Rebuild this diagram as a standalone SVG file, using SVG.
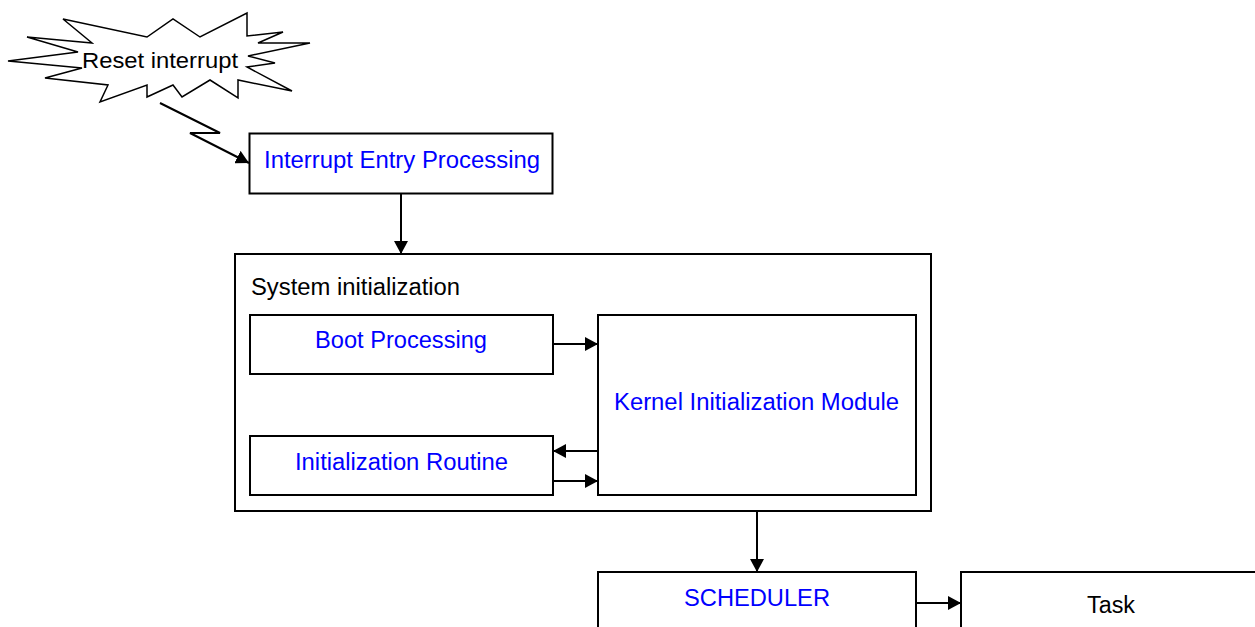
<svg xmlns="http://www.w3.org/2000/svg" width="1255" height="627" viewBox="0 0 1255 627">
<style>
.box{fill:#fff;stroke:#000;stroke-width:2}
.t{font-family:"Liberation Sans",Arial,sans-serif;font-size:23px;fill:#0000ff}
.k{font-family:"Liberation Sans",Arial,sans-serif;font-size:23px;fill:#000}
.c{fill:none;stroke:#000;stroke-width:2}
</style>
<defs>
<marker id="ah" markerUnits="userSpaceOnUse" markerWidth="14" markerHeight="14" viewBox="0 0 14 14" refX="13" refY="7" orient="auto">
<path d="M0,0 L13,7 L0,14 Z" fill="#000"/>
</marker>
</defs>
<rect width="1255" height="627" fill="#fff"/>
<g id="reset">
<polygon points="63,19 147,37 173,19 200,37 247,13 247,36 283,32 258,43 310,43 248,56 275,63 247,67 292,91 238,80 238,98 210,80 182,97 173,85 147,97 147,85 100,102 108,85 45,78 82,68 8,61 78,52 27,37 92,43" fill="#fff" stroke="#000" stroke-width="1.5" stroke-linejoin="miter"/>
<text class="k" x="82" y="68" textLength="156" lengthAdjust="spacingAndGlyphs" style="font-size:22px">Reset interrupt</text>
</g>
<g id="interrupt-entry">
<rect class="box" x="249.5" y="133.5" width="303" height="60"/>
<text class="t" x="264" y="168" textLength="276" lengthAdjust="spacingAndGlyphs">Interrupt Entry Processing</text>
</g>
<g id="system-init">
<rect class="box" x="235" y="254" width="696" height="257"/>
<text class="k" x="251" y="295" textLength="209" lengthAdjust="spacingAndGlyphs">System initialization</text>
</g>
<g id="boot">
<rect class="box" x="250" y="315" width="303" height="59"/>
<text class="t" x="315" y="348" textLength="172" lengthAdjust="spacingAndGlyphs">Boot Processing</text>
</g>
<g id="init-routine">
<rect class="box" x="250" y="436" width="303" height="59"/>
<text class="t" x="295" y="470" textLength="213" lengthAdjust="spacingAndGlyphs">Initialization Routine</text>
</g>
<g id="kernel">
<rect class="box" x="598" y="315" width="318" height="180"/>
<text class="t" x="614" y="410" textLength="285" lengthAdjust="spacingAndGlyphs">Kernel Initialization Module</text>
</g>
<g id="scheduler">
<rect class="box" x="598" y="572" width="318" height="70"/>
<text class="t" x="684" y="606" textLength="146" lengthAdjust="spacingAndGlyphs">SCHEDULER</text>
</g>
<g id="task">
<rect class="box" x="961" y="572" width="320" height="70"/>
<text class="k" x="1087" y="613" textLength="48" lengthAdjust="spacingAndGlyphs">Task</text>
</g>
<g id="connectors">
<path class="c" d="M160,103 L220,133 L190,133 L249,163" marker-end="url(#ah)" stroke-width="1.5"/>
<path class="c" d="M401,194 L401,254" marker-end="url(#ah)"/>
<path class="c" d="M553,344 L598,344" marker-end="url(#ah)"/>
<path class="c" d="M598,451 L553,451" marker-end="url(#ah)"/>
<path class="c" d="M553,481 L598,481" marker-end="url(#ah)"/>
<path class="c" d="M757,511 L757,572" marker-end="url(#ah)"/>
<path class="c" d="M916,603 L961,603" marker-end="url(#ah)"/>
</g>
</svg>
